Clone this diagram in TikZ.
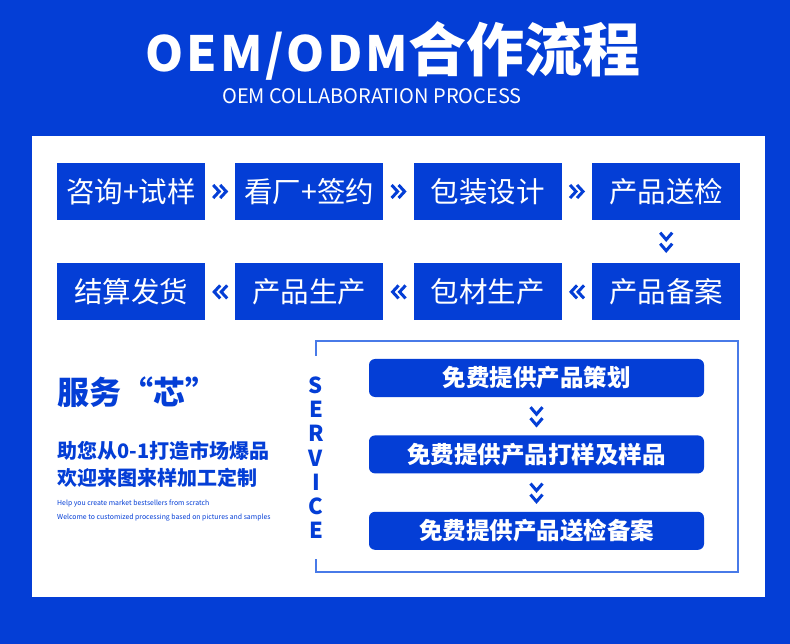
\documentclass[tikz,border=0pt]{standalone}
\usepackage{fontspec}
\setmainfont{Noto Sans CJK SC}
\usetikzlibrary{positioning}
\definecolor{svblue}{RGB}{4,62,214}
\definecolor{svline}{RGB}{72,122,232}

\begin{document}
\begin{tikzpicture}[
    x=1pt, y=-1pt,
    node distance=30pt,
    stepbox/.style={fill=svblue,text=white,inner sep=0pt,minimum width=148pt,minimum height=57pt,font=\fontsize{28.5}{32}\selectfont},
    freebox/.style={fill=svblue,text=white,rounded corners=6pt,inner sep=0pt,minimum width=335pt,minimum height=38pt,font=\bfseries\fontsize{23.5}{26}\selectfont},
    svletter/.style={text=svblue,inner sep=0pt,font=\bfseries\fontsize{22}{24}\selectfont},
    dchev/.pic={\draw[svblue,line width=3pt,line join=miter] (-7,-6.5) -- (-1,0) -- (-7,6.5) (0,-6.5) -- (6,0) -- (0,6.5);},
    tchev/.pic={\draw[svblue,line width=3pt,line join=miter] (-9,-6) -- (-2,0) -- (-9,6) (2,-6) -- (9,0) -- (2,6);}
  ]
    % background and white panel
    \fill[svblue] (0,0) rectangle (790,644);
    \fill[white] (32,136) rectangle (765,597);

    % title
    \node[text=white,inner sep=0pt] (title) at (393,51)
      {\bfseries{\fontsize{48.5}{52}\selectfont\addfontfeature{LetterSpace=6}OEM/ODM}{\fontsize{58}{62}\selectfont 合作流程}};
    \node[text=white,inner sep=0pt,font=\fontsize{20}{24}\selectfont] (subtitle) at (372,96) {OEM COLLABORATION PROCESS};

    % process steps
    \node[stepbox] (s1) at (131,191.5) {咨询+试样};
    \node[stepbox,right=of s1] (s2) {看厂+签约};
    \node[stepbox,right=of s2] (s3) {包装设计};
    \node[stepbox,right=of s3] (s4) {产品送检};
    \node[stepbox,below=43pt of s4] (s5) {产品备案};
    \node[stepbox,left=of s5] (s6) {包材生产};
    \node[stepbox,left=of s6] (s7) {产品生产};
    \node[stepbox,left=of s7] (s8) {结算发货};
    \foreach \a/\b in {s1/s2,s2/s3,s3/s4,s5/s6,s6/s7,s7/s8}
      \path (\a) -- (\b) pic[midway,sloped,allow upside down] {dchev};
    \path (s4) -- (s5) pic[midway,sloped,allow upside down] {tchev};

    % service text
    \node[anchor=west,text=svblue,inner sep=0pt,font=\bfseries\fontsize{32}{36}\selectfont] (core) at (57,392) {服务“芯”};
    \node[anchor=west,text=svblue,inner sep=0pt,font=\bfseries\fontsize{20}{24}\selectfont] (help) at (57,451) {助您从0-1打造市场爆品};
    \node[anchor=west,text=svblue,inner sep=0pt,font=\bfseries\fontsize{20}{24}\selectfont] (welcome) at (57,478) {欢迎来图来样加工定制};
    \node[anchor=west,text=svblue,inner sep=0pt,font=\fontsize{6.9}{9}\selectfont] (en1) at (57,504) {Help you create market bestsellers from scratch};
    \node[anchor=west,text=svblue,inner sep=0pt,font=\fontsize{6.9}{9}\selectfont] (en2) at (57,518) {Welcome to customized processing based on pictures and samples};

    % service frame
    \draw[svline,line width=1.5pt] (316,356) -- (316,341) -- (738,341) -- (738,572) -- (316,572) -- (316,559);
    \foreach \ch [count=\i from 0] in {S,E,R,V,I,C,E}
      \node[svletter] (sv\i) at (316,{385+24.3*\i}) {\ch};

    \node[freebox] (f1) at (536.5,378) {免费提供产品策划};
    \node[freebox,below=38pt of f1] (f2) {免费提供产品打样及样品};
    \node[freebox,below=38pt of f2] (f3) {免费提供产品送检备案};
    \path (f1) -- (f2) pic[midway,sloped,allow upside down] {tchev};
    \path (f2) -- (f3) pic[midway,sloped,allow upside down] {tchev};
\end{tikzpicture}
\end{document}
